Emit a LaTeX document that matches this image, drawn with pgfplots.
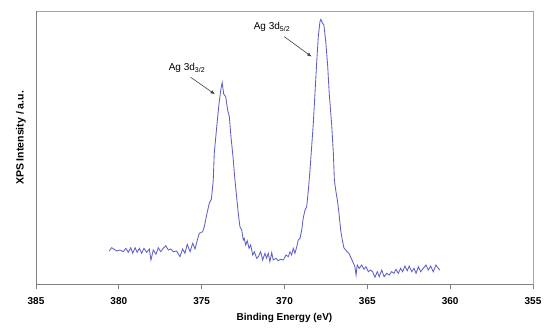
\documentclass[border=0pt]{standalone}
\usepackage{fontspec}
\setmainfont{Liberation Sans}
\usepackage{pgfplots}
\pgfplotsset{compat=1.18}
\usetikzlibrary{arrows.meta}
\definecolor{spec}{RGB}{95,95,200}
\definecolor{axdark}{RGB}{128,128,128}
\definecolor{axlight}{RGB}{165,165,165}
\begin{document}
\begin{tikzpicture}[x=1pt,y=1pt]
\useasboundingbox (0,0) rectangle (550,330);
\begin{axis}[
  at={(36pt,46pt)}, anchor=south west,
  scale only axis, width=497pt, height=273pt,
  xmin=355, xmax=385, x dir=reverse,
  ymin=0, ymax=273,
  xtick={355,360,365,370,375,380,385},
  ytick=\empty,
  axis line style={axlight, line width=0.8pt},
  xtick pos=bottom,
  tick align=outside,
  major tick length=5pt,
  every tick/.style={axdark, line width=0.8pt},
  /pgf/number format/assume math mode=true,
  xticklabel style={font=\bfseries\fontsize{10}{12}\selectfont, anchor=center, yshift=-12.5pt},
  clip=false,
]
\addplot[spec, line width=0.85pt, mark=none] coordinates {
(380.58,33) (380.43,36.3) (380.13,33) (379.93,34) (379.73,32.3) (379.57,35.7)
(379.43,31.7) (379.28,36.3) (379.16,30.7) (379.02,36.3) (378.89,31.7) (378.76,35.7)
(378.62,30.7) (378.48,35.7) (378.32,31.7) (378.16,35) (378.06,24) (377.92,34)
(377.76,29.7) (377.62,36.3) (377.47,32.3) (377.32,35.7) (377.17,38.3) (377.01,34)
(376.87,35) (376.71,32.3) (376.51,33) (376.31,27.3) (376.15,35) (376.01,30.7)
(375.87,39.7) (375.70,32.3) (375.54,40.7) (375.40,35) (375.26,44) (375.14,50.7)
(374.94,52.3) (374.83,58) (374.70,69) (374.54,80.7) (374.41,85) (374.30,104)
(374.24,130.7) (374.09,157.3) (373.95,180.7) (373.83,195.7) (373.76,201.3) (373.67,190)
(373.55,187.3) (373.43,174) (373.33,167.3) (373.23,147.3) (373.09,124) (372.99,104)
(372.89,87.3) (372.79,70.7) (372.69,57.3) (372.58,54) (372.49,44) (372.43,45.7)
(372.34,39) (372.25,43.3) (372.14,35.7) (372.04,39) (371.92,29) (371.82,32.3)
(371.68,25.7) (371.58,27.3) (371.44,32.3) (371.32,24) (371.18,30.7) (371.08,25.7)
(370.98,30.7) (370.88,22.3) (370.77,31.3) (370.68,24) (370.51,25.7) (370.38,23.3)
(370.23,24.7) (370.07,24) (369.91,29) (369.77,27.3) (369.67,32.3) (369.57,29)
(369.47,35.7) (369.37,30.7) (369.26,37.3) (369.17,44) (369.06,45.7) (368.96,54)
(368.87,66) (368.76,74) (368.66,77.3) (368.56,94) (368.46,114) (368.36,137.3)
(368.26,160.7) (368.16,190.7) (368.06,220.7) (367.96,247.3) (367.86,262.3) (367.80,264.7)
(367.72,261.3) (367.62,259) (367.50,240.7) (367.39,217.3) (367.30,190.7) (367.15,159)
(367.05,130.7) (366.99,104) (366.91,94) (366.81,84) (366.71,70.7) (366.61,54)
(366.51,44) (366.41,36) (366.25,33) (366.09,30) (365.88,22.3) (365.75,17.3)
(365.68,9) (365.61,19) (365.49,15.7) (365.34,19) (365.20,14.7) (365.08,17.3)
(364.94,12.3) (364.80,14) (364.68,12.3) (364.54,6.7) (364.40,12.3) (364.28,7.3)
(364.13,14) (363.99,7.3) (363.83,10.7) (363.68,9) (363.53,12.3) (363.39,10.7)
(363.27,14.7) (363.13,10.7) (362.99,15.7) (362.87,12.3) (362.73,18) (362.59,13.3)
(362.47,18) (362.32,12.3) (362.18,15.7) (362.06,10.7) (361.92,17.3) (361.78,12.3)
(361.62,15.7) (361.46,19) (361.32,14) (361.18,18) (361.02,12.3) (360.86,19)
(360.72,15.7) (360.62,14)
};
\draw[axdark, line width=0.8pt] (rel axis cs:0,1) -- (rel axis cs:0,0) -- (rel axis cs:1,0);
\end{axis}
\node[font=\bfseries\fontsize{10}{12}\selectfont] at (284.5,12) {Binding Energy (eV)};
\node[font=\bfseries\fontsize{10.5}{12}\selectfont, rotate=90] at (21,192) {XPS Intensity / a.u.};
\node[font=\fontsize{10}{12}\selectfont] at (187,262) {Ag 3d\textsubscript{3/2}};
\node[font=\fontsize{10}{12}\selectfont] at (272,303) {Ag 3d\textsubscript{5/2}};
\draw[black!75, line width=0.6pt, -{Latex[length=4.5pt,width=3.5pt]}] (190.7,252.7) -- (215,235.7);
\draw[black!75, line width=0.6pt, -{Latex[length=4.5pt,width=3.5pt]}] (284.3,293.3) -- (311.7,273.3);
\end{tikzpicture}
\end{document}
